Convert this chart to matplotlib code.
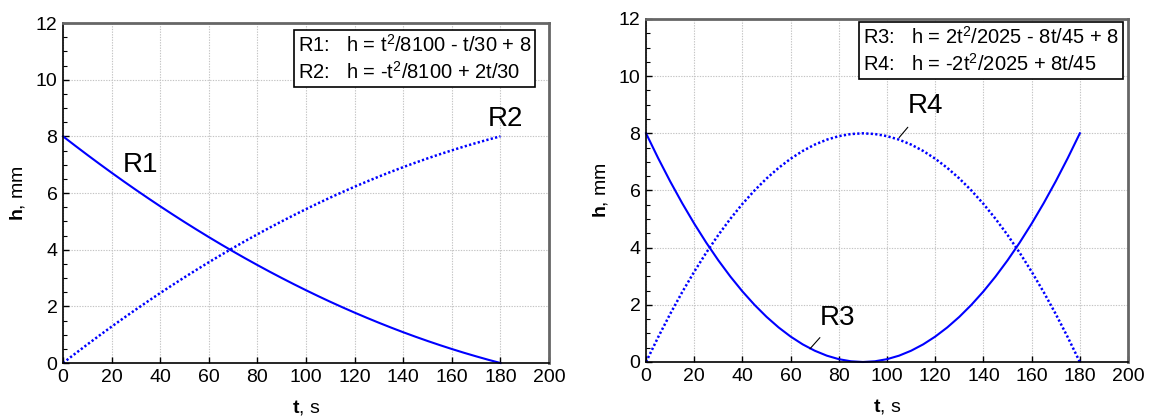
import matplotlib.pyplot as plt
from matplotlib.ticker import MultipleLocator

plt.rcParams['font.family'] = ['Liberation Sans', 'DejaVu Sans']
plt.rcParams['mathtext.fontset'] = 'custom'
plt.rcParams['mathtext.rm'] = 'Liberation Sans'
plt.rcParams['mathtext.it'] = 'Liberation Sans'
plt.rcParams['mathtext.bf'] = 'Liberation Sans:bold'

# time, s (readings every 5 s)
t = list(range(0, 185, 5))

# height, mm
r1 = [8.000, 7.670, 7.346, 7.028, 6.716, 6.410, 6.111, 5.818, 5.531, 5.250,
      4.975, 4.707, 4.444, 4.188, 3.938, 3.694, 3.457, 3.225, 3.000, 2.781,
      2.568, 2.361, 2.160, 1.966, 1.778, 1.596, 1.420, 1.250, 1.086, 0.929,
      0.778, 0.633, 0.494, 0.361, 0.235, 0.114, 0.000]
r2 = [0.000, 0.330, 0.654, 0.972, 1.284, 1.590, 1.889, 2.182, 2.469, 2.750,
      3.025, 3.293, 3.556, 3.812, 4.062, 4.306, 4.543, 4.775, 5.000, 5.219,
      5.432, 5.639, 5.840, 6.034, 6.222, 6.404, 6.580, 6.750, 6.914, 7.071,
      7.222, 7.367, 7.506, 7.639, 7.765, 7.886, 8.000]
r3 = [8.000, 7.136, 6.321, 5.556, 4.840, 4.173, 3.556, 2.988, 2.469, 2.000,
      1.580, 1.210, 0.889, 0.617, 0.395, 0.222, 0.099, 0.025, 0.000, 0.025,
      0.099, 0.222, 0.395, 0.617, 0.889, 1.210, 1.580, 2.000, 2.469, 2.988,
      3.556, 4.173, 4.840, 5.556, 6.321, 7.136, 8.000]
r4 = [0.000, 0.864, 1.679, 2.444, 3.160, 3.827, 4.444, 5.012, 5.531, 6.000,
      6.420, 6.790, 7.111, 7.383, 7.605, 7.778, 7.901, 7.975, 8.000, 7.975,
      7.901, 7.778, 7.605, 7.383, 7.111, 6.790, 6.420, 6.000, 5.531, 5.012,
      4.444, 3.827, 3.160, 2.444, 1.679, 0.864, 0.000]

legend_left = 'R1:   h = t$^2$/8100 - t/30 + 8\nR2:   h = -t$^2$/8100 + 2t/30'
legend_right = 'R3:   h = 2t$^2$/2025 - 8t/45 + 8\nR4:   h = -2t$^2$/2025 + 8t/45'

blue = '#0000ff'
dots = (0, (0.9, 0.9))

fig = plt.figure(figsize=(11.52, 4.2), dpi=100)
ax1 = fig.add_axes([0.0547, 0.1357, 0.4219, 0.8095])
ax2 = fig.add_axes([0.5608, 0.1381, 0.4184, 0.8167])


def style(ax):
    ax.set_xlim(0, 200)
    ax.set_ylim(0, 12)
    ax.xaxis.set_major_locator(MultipleLocator(20))
    ax.yaxis.set_major_locator(MultipleLocator(2))
    ax.yaxis.set_minor_locator(MultipleLocator(0.5))
    ax.grid(True, color='#c4c4c4', linestyle=(0, (1.2, 1.2)), linewidth=0.8)
    ax.tick_params(direction='in', length=4, width=1, labelsize=14, pad=4)
    ax.tick_params(which='minor', direction='in', length=3, width=0.8)
    for s in ['left', 'bottom']:
        ax.spines[s].set_color('black')
        ax.spines[s].set_linewidth(1.2)
    for s in ['top', 'right']:
        ax.spines[s].set_color('#666666')
        ax.spines[s].set_linewidth(2)
    ax.set_xlabel(r'$\mathbf{t}$, s', fontsize=14, labelpad=9)
    ax.set_ylabel(r'$\mathbf{h}$, mm', fontsize=14, labelpad=6)


style(ax1)
ax1.plot(t, r1, color=blue, lw=1.5, clip_on=False)
ax1.plot(t, r2, color=blue, lw=1.8, linestyle=dots, clip_on=False)
ax1.text(32, 7.0, 'R1', fontsize=20, ha='center', va='center')
ax1.text(182, 8.6, 'R2', fontsize=20, ha='center', va='center')
ax1.text(0.963, 0.968, legend_left, transform=ax1.transAxes, ha='right', va='top',
         multialignment='left', fontsize=14.5, linespacing=1.3,
         bbox=dict(boxstyle='square,pad=0.2', fc='white', ec='black', lw=1.2))

style(ax2)
ax2.plot(t, r3, color=blue, lw=1.5, clip_on=False)
ax2.plot(t, r4, color=blue, lw=1.8, linestyle=dots, clip_on=False)
ax2.annotate('R3', xy=(68, 0.46), xytext=(79.5, 1.55), fontsize=20,
             ha='center', va='center',
             arrowprops=dict(arrowstyle='-', color='black', lw=0.8,
                             shrinkA=4, shrinkB=0))
ax2.annotate('R4', xy=(105, 7.85), xytext=(116, 8.95), fontsize=20,
             ha='center', va='center',
             arrowprops=dict(arrowstyle='-', color='black', lw=0.8,
                             shrinkA=5, shrinkB=0))
ax2.text(0.981, 0.98, legend_right, transform=ax2.transAxes, ha='right', va='top',
         multialignment='left', fontsize=14.5, linespacing=1.3,
         bbox=dict(boxstyle='square,pad=0.2', fc='white', ec='black', lw=1.2))

fig.savefig('out.png', dpi=100)
